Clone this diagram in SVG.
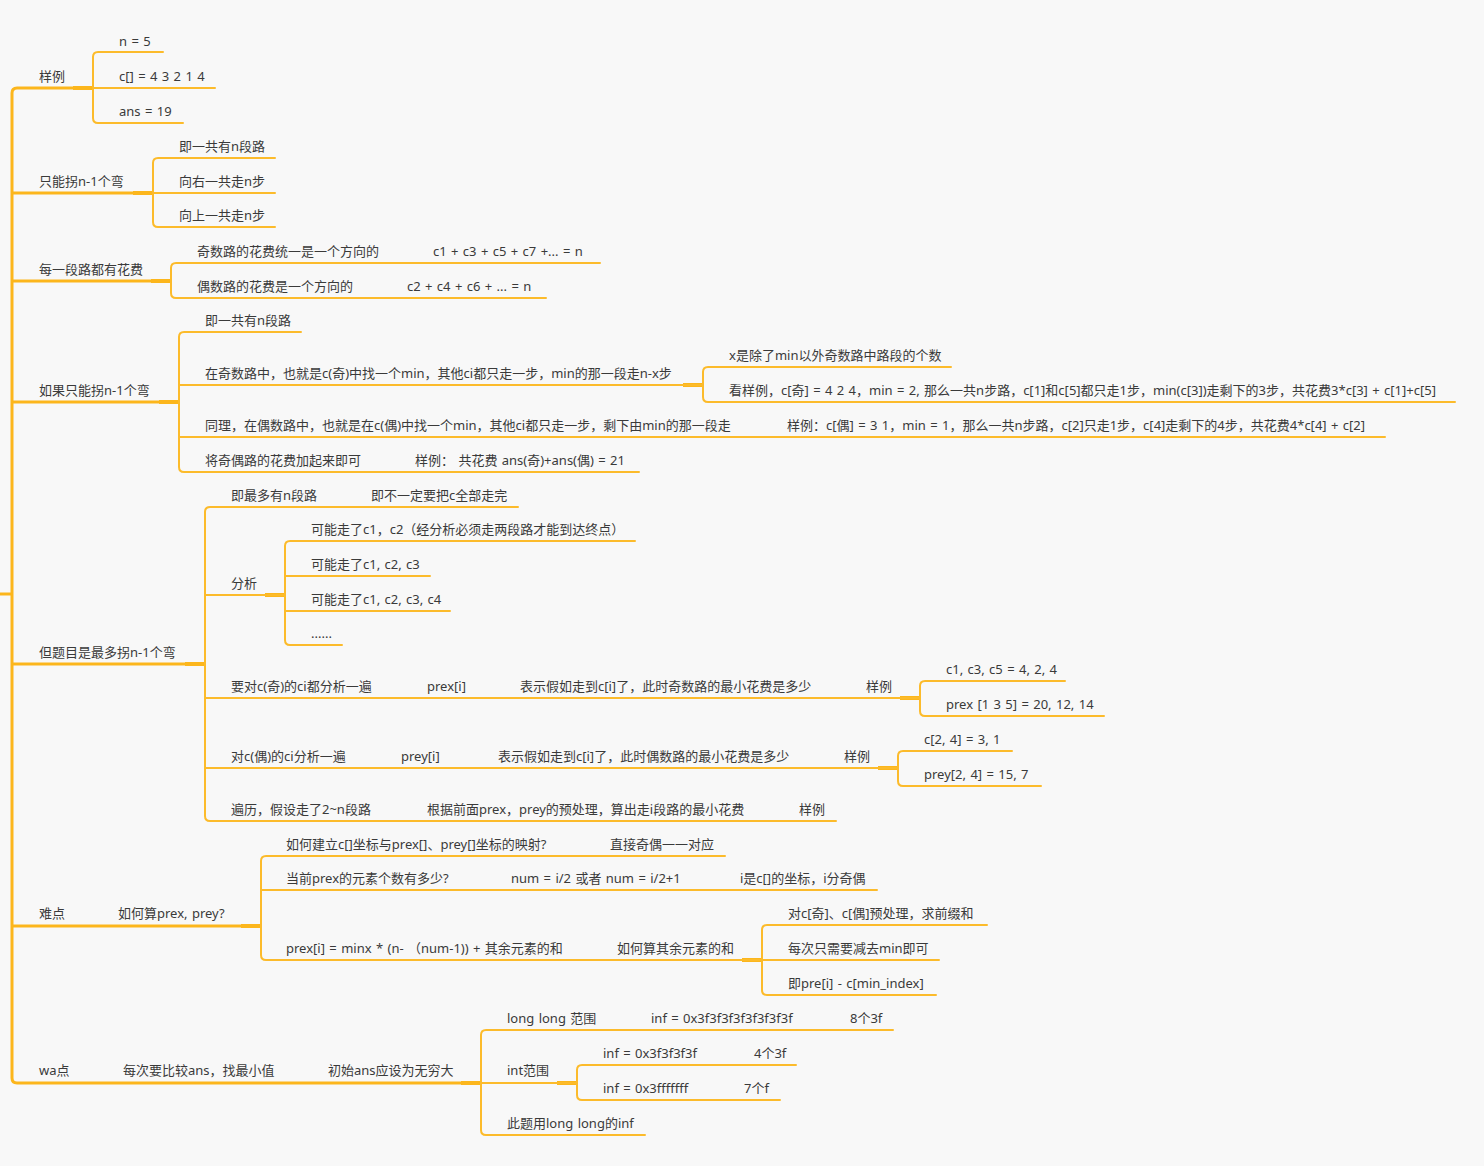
<svg xmlns="http://www.w3.org/2000/svg" width="1484" height="1166" viewBox="0 0 1484 1166">
<style>
.ln{fill:none;stroke:#fcbb2b;stroke-width:2;stroke-linecap:round;stroke-linejoin:round}
.tk{fill:none;stroke:#fcb61c;stroke-width:3;stroke-linejoin:round}
.jn{fill:none;stroke:#fcb61c;stroke-width:4}
text{font-family:"Noto Sans","Noto Sans CJK SC",sans-serif;font-size:13px;fill:#3a3a3a;word-spacing:1px}
</style>
<rect x="0" y="0" width="1484" height="1166" fill="#f8f8f8"/>
<g id="connectors">
<path class="tk" d="M0 594 H12"/>
<path class="tk" d="M93 88 H17 Q12 88 12 93 V1078 Q12 1083 17 1083 H481"/>
<path class="tk" d="M12 193 H153 M12 281 H171 M12 402 H179 M12 664 H205 M12 926 H261"/>
<path class="jn" d="M73 88 H93 M133 193 H153 M151 281 H171 M159 402 H179 M683 385 H703 M185 664 H205 M265 595 H285 M900 698 H920 M878 768 H898 M241 926 H261 M742 960 H762 M461 1083 H481 M557 1083 H577"/>
<path class="ln" d="M163 52 H98 Q93 52 93 57 V118 Q93 123 98 123 H183 M93 88 H215"/>
<path class="ln" d="M275 158 H158 Q153 158 153 163 V222 Q153 227 158 227 H275 M153 193 H275"/>
<path class="ln" d="M600 263 H176 Q171 263 171 268 V293 Q171 298 176 298 H546"/>
<path class="ln" d="M301 332 H184 Q179 332 179 337 V467 Q179 472 184 472 H639 M179 385 H703 M179 437 H1385"/>
<path class="ln" d="M951 367 H708 Q703 367 703 372 V397 Q703 402 708 402 H1455"/>
<path class="ln" d="M518 507 H210 Q205 507 205 512 V816 Q205 821 210 821 H836 M205 595 H285 M205 698 H920 M205 768 H898"/>
<path class="ln" d="M635 541 H290 Q285 541 285 546 V640 Q285 645 290 645 H342 M285 576 H430 M285 611 H450"/>
<path class="ln" d="M1065 681 H925 Q920 681 920 686 V711 Q920 716 925 716 H1104"/>
<path class="ln" d="M1012 751 H903 Q898 751 898 756 V781 Q898 786 903 786 H1041"/>
<path class="ln" d="M725 856 H266 Q261 856 261 861 V955 Q261 960 266 960 H762 M261 890 H877"/>
<path class="ln" d="M987 925 H767 Q762 925 762 930 V990 Q762 995 767 995 H936 M762 960 H939"/>
<path class="ln" d="M893 1030 H486 Q481 1030 481 1035 V1130 Q481 1135 486 1135 H645 M481 1083 H577"/>
<path class="ln" d="M796 1065 H582 Q577 1065 577 1070 V1095 Q577 1100 582 1100 H780"/>
</g>
<g id="n-sample"><text x="39" y="81">样例</text></g>
<g id="n-sample-1"><text x="119" y="46">n = 5</text></g>
<g id="n-sample-2"><text x="119" y="81">c[] = 4 3 2 1 4</text></g>
<g id="n-sample-3"><text x="119" y="116">ans = 19</text></g>
<g id="n-turn"><text x="39" y="186">只能拐n-1个弯</text></g>
<g id="n-turn-1"><text x="179" y="151">即一共有n段路</text></g>
<g id="n-turn-2"><text x="179" y="186">向右一共走n步</text></g>
<g id="n-turn-3"><text x="179" y="220">向上一共走n步</text></g>
<g id="n-cost"><text x="39" y="274">每一段路都有花费</text></g>
<g id="n-cost-1"><text x="197" y="256">奇数路的花费统一是一个方向的</text><text x="433" y="256">c1 + c3 + c5 + c7 +... = n</text></g>
<g id="n-cost-2"><text x="197" y="291">偶数路的花费是一个方向的</text><text x="407" y="291">c2 + c4 + c6 + ... = n</text></g>
<g id="n-if"><text x="39" y="395">如果只能拐n-1个弯</text></g>
<g id="n-if-1"><text x="205" y="325">即一共有n段路</text></g>
<g id="n-if-2"><text x="205" y="378">在奇数路中，也就是c(奇)中找一个min，其他ci都只走一步，min的那一段走n-x步</text></g>
<g id="n-if-2a"><text x="729" y="360">x是除了min以外奇数路中路段的个数</text></g>
<g id="n-if-2b"><text x="729" y="395">看样例，c[奇] = 4 2 4，min = 2, 那么一共n步路，c[1]和c[5]都只走1步，min(c[3])走剩下的3步，共花费3*c[3] + c[1]+c[5]</text></g>
<g id="n-if-3"><text x="205" y="430">同理，在偶数路中，也就是在c(偶)中找一个min，其他ci都只走一步，剩下由min的那一段走</text><text x="787" y="430">样例：c[偶] = 3 1，min = 1，那么一共n步路，c[2]只走1步，c[4]走剩下的4步，共花费4*c[4] + c[2]</text></g>
<g id="n-if-4"><text x="205" y="465">将奇偶路的花费加起来即可</text><text x="415" y="465">样例： 共花费 ans(奇)+ans(偶) = 21</text></g>
<g id="n-most"><text x="39" y="657">但题目是最多拐n-1个弯</text></g>
<g id="n-most-1"><text x="231" y="500">即最多有n段路</text><text x="371" y="500">即不一定要把c全部走完</text></g>
<g id="n-most-2"><text x="231" y="588">分析</text></g>
<g id="n-most-2a"><text x="311" y="534">可能走了c1，c2（经分析必须走两段路才能到达终点）</text></g>
<g id="n-most-2b"><text x="311" y="569">可能走了c1, c2, c3</text></g>
<g id="n-most-2c"><text x="311" y="604">可能走了c1, c2, c3, c4</text></g>
<g id="n-most-2d"><text x="311" y="638">......</text></g>
<g id="n-most-3"><text x="231" y="691">要对c(奇)的ci都分析一遍</text><text x="427" y="691">prex[i]</text><text x="520" y="691">表示假如走到c[i]了，此时奇数路的最小花费是多少</text><text x="866" y="691">样例</text></g>
<g id="n-most-3a"><text x="946" y="674">c1, c3, c5 = 4, 2, 4</text></g>
<g id="n-most-3b"><text x="946" y="709">prex [1 3 5] = 20, 12, 14</text></g>
<g id="n-most-4"><text x="231" y="761">对c(偶)的ci分析一遍</text><text x="401" y="761">prey[i]</text><text x="498" y="761">表示假如走到c[i]了，此时偶数路的最小花费是多少</text><text x="844" y="761">样例</text></g>
<g id="n-most-4a"><text x="924" y="744">c[2, 4] = 3, 1</text></g>
<g id="n-most-4b"><text x="924" y="779">prey[2, 4] = 15, 7</text></g>
<g id="n-most-5"><text x="231" y="814">遍历，假设走了2~n段路</text><text x="427" y="814">根据前面prex，prey的预处理，算出走i段路的最小花费</text><text x="799" y="814">样例</text></g>
<g id="n-hard"><text x="39" y="918">难点</text><text x="118" y="918">如何算prex, prey?</text></g>
<g id="n-hard-1"><text x="286" y="849">如何建立c[]坐标与prex[]、prey[]坐标的映射?</text><text x="610" y="849">直接奇偶一一对应</text></g>
<g id="n-hard-2"><text x="286" y="883">当前prex的元素个数有多少?</text><text x="511" y="883">num = i/2 或者 num = i/2+1</text><text x="740" y="883">i是c[]的坐标，i分奇偶</text></g>
<g id="n-hard-3"><text x="286" y="953">prex[i] = minx * (n- （num-1)) + 其余元素的和</text><text x="617" y="953">如何算其余元素的和</text></g>
<g id="n-hard-3a"><text x="788" y="918">对c[奇]、c[偶]预处理，求前缀和</text></g>
<g id="n-hard-3b"><text x="788" y="953">每次只需要减去min即可</text></g>
<g id="n-hard-3c"><text x="788" y="988">即pre[i] - c[min_index]</text></g>
<g id="n-wa"><text x="39" y="1075">wa点</text><text x="123" y="1075">每次要比较ans，找最小值</text><text x="328" y="1075">初始ans应设为无穷大</text></g>
<g id="n-wa-1"><text x="507" y="1023">long long 范围</text><text x="651" y="1023">inf = 0x3f3f3f3f3f3f3f3f</text><text x="850" y="1023">8个3f</text></g>
<g id="n-wa-2"><text x="507" y="1075">int范围</text></g>
<g id="n-wa-2a"><text x="603" y="1058">inf = 0x3f3f3f3f</text><text x="754" y="1058">4个3f</text></g>
<g id="n-wa-2b"><text x="603" y="1093">inf = 0x3fffffff</text><text x="744" y="1093">7个f</text></g>
<g id="n-wa-3"><text x="507" y="1128">此题用long long的inf</text></g>
</svg>
